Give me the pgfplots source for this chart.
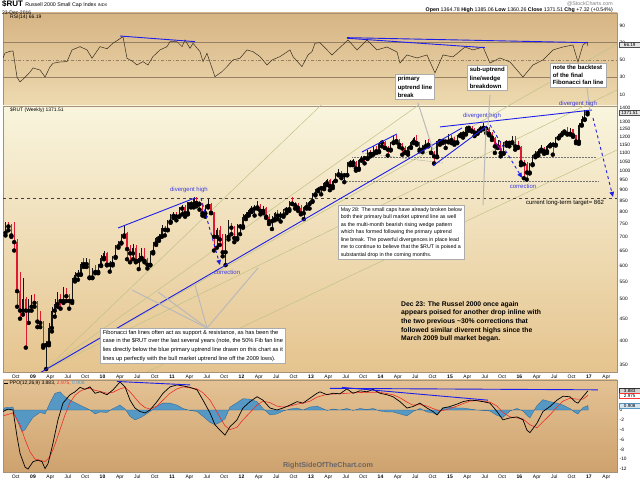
\documentclass[border=0pt]{standalone}
\usepackage{fontspec}
\setmainfont{Liberation Sans}
\usepackage{pgfplots}
\usepackage{pgfplotstable}
\pgfplotsset{compat=1.18}
\usetikzlibrary{arrows.meta}

\definecolor{frame}{RGB}{165,145,120}
\definecolor{rsitop}{RGB}{214,180,132}
\definecolor{rsibot}{RGB}{238,218,176}
\definecolor{pricetop}{RGB}{249,245,222}
\definecolor{pricebot}{RGB}{229,196,142}
\definecolor{ppotop}{RGB}{228,194,148}
\definecolor{ppobot}{RGB}{206,162,110}
\definecolor{upc}{RGB}{20,20,20}
\definecolor{dnc}{RGB}{222,25,50}
\definecolor{trend}{RGB}{30,30,235}
\definecolor{labblue}{RGB}{60,60,225}
\definecolor{fan}{RGB}{192,194,135}
\definecolor{histfill}{RGB}{85,152,196}
\definecolor{histedge}{RGB}{40,100,150}
\definecolor{sigred}{RGB}{238,45,40}
\definecolor{rsiline}{RGB}{55,45,30}
\definecolor{guide}{RGB}{150,128,100}

\newcommand\fs[2]{\fontsize{#1}{#2}\selectfont}

% semi-monthly candles: time, open, high, low, close
\pgfplotstableread{
t o h l c
2008.604 715 760 705 750
2008.646 750 760 725 740
2008.688 740 750 700 705
2008.729 705 760 650 680
2008.771 680 690 480 522
2008.813 522 580 450 470
2008.854 470 560 460 500
2008.896 500 505 385 470
2008.938 470 500 440 480
2008.979 480 510 470 499
2009.021 499 515 480 490
2009.063 490 495 430 443
2009.104 443 470 430 440
2009.146 440 445 385 390
2009.188 390 400 343 395
2009.229 395 440 390 428
2009.271 428 480 420 470
2009.313 470 500 455 487
2009.354 487 520 480 505
2009.396 505 515 475 495
2009.438 495 535 490 525
2009.479 525 530 495 508
2009.521 508 515 475 495
2009.563 495 560 490 557
2009.604 557 580 550 570
2009.646 570 585 555 572
2009.688 572 610 570 605
2009.729 605 625 595 604
2009.771 604 625 595 610
2009.813 610 620 560 562
2009.854 562 590 560 585
2009.896 585 600 575 579
2009.938 579 605 575 600
2009.979 600 635 598 625
2010.021 625 650 620 640
2010.063 640 645 600 602
2010.104 602 615 580 605
2010.146 605 630 600 628
2010.188 628 670 625 665
2010.229 665 685 660 678
2010.271 678 710 675 705
2010.313 705 742 700 716
2010.354 716 720 620 655
2010.396 655 670 610 640
2010.438 640 675 620 660
2010.479 660 670 610 615
2010.521 615 640 588 625
2010.563 625 660 620 650
2010.604 650 660 610 615
2010.646 615 625 590 602
2010.688 602 650 600 645
2010.729 645 680 640 676
2010.771 676 700 670 695
2010.813 695 710 685 703
2010.854 703 745 700 735
2010.896 735 740 705 727
2010.938 727 765 725 760
2010.979 760 790 755 784
2011.021 784 800 775 795
2011.063 795 800 765 781
2011.104 781 820 780 815
2011.146 815 830 790 823
2011.188 823 830 780 795
2011.229 795 845 790 843
2011.271 843 850 820 835
2011.313 835 866 820 865
2011.354 865 868 825 840
2011.396 840 850 810 835
2011.438 835 840 785 795
2011.479 795 830 780 827
2011.521 827 858 820 835
2011.563 835 840 795 797
2011.604 797 800 650 700
2011.646 700 735 660 726
2011.688 726 740 670 690
2011.729 690 710 630 644
2011.771 644 710 601 700
2011.813 700 765 690 741
2011.854 741 755 710 735
2011.896 735 740 680 695
2011.938 695 750 690 740
2011.979 740 750 710 741
2012.021 741 790 735 780
2012.063 780 800 770 792
2012.104 792 815 785 810
2012.146 810 825 800 815
2012.188 815 830 785 820
2012.229 820 847 815 830
2012.271 830 835 790 805
2012.313 805 825 795 816
2012.354 816 820 775 780
2012.396 780 790 750 761
2012.438 761 785 730 770
2012.479 770 800 765 798
2012.521 798 810 770 785
2012.563 785 800 760 786
2012.604 786 815 780 810
2012.646 810 820 795 812
2012.688 812 850 805 840
2012.729 840 868 835 837
2012.771 837 845 815 830
2012.813 830 840 805 818
2012.854 818 830 790 795
2012.896 795 825 770 822
2012.938 822 845 815 835
2012.979 835 850 815 849
2013.021 849 885 845 880
2013.063 880 905 875 902
2013.104 902 915 895 910
2013.146 910 920 880 911
2013.188 911 940 905 935
2013.229 935 955 925 951
2013.271 951 955 900 920
2013.313 920 950 910 947
2013.354 947 985 945 980
2013.396 980 1010 975 984
2013.438 984 1000 960 975
2013.479 975 985 940 977
2013.521 977 1045 975 1040
2013.563 1040 1060 1030 1045
2013.604 1045 1065 1030 1050
2013.646 1050 1055 1000 1011
2013.688 1011 1065 1005 1060
2013.729 1060 1085 1055 1073
2013.771 1073 1080 1040 1070
2013.813 1070 1120 1065 1110
2013.854 1110 1120 1080 1095
2013.896 1095 1145 1090 1143
2013.938 1143 1145 1100 1110
2013.979 1110 1165 1105 1163
2014.021 1163 1180 1140 1165
2014.063 1165 1175 1130 1131
2014.104 1131 1140 1085 1120
2014.146 1120 1170 1115 1165
2014.188 1165 1212 1160 1200
2014.229 1200 1210 1165 1173
2014.271 1173 1185 1135 1150
2014.313 1150 1160 1090 1127
2014.354 1127 1145 1100 1105
2014.396 1105 1140 1090 1135
2014.438 1135 1175 1130 1170
2014.479 1170 1200 1160 1193
2014.521 1193 1213 1150 1160
2014.563 1160 1170 1110 1120
2014.604 1120 1150 1105 1140
2014.646 1140 1180 1135 1174
2014.688 1174 1185 1140 1150
2014.729 1150 1155 1100 1101
2014.771 1101 1110 1040 1080
2014.813 1080 1175 1075 1173
2014.854 1173 1180 1150 1175
2014.896 1175 1185 1160 1173
2014.938 1173 1180 1130 1170
2014.979 1170 1220 1165 1205
2015.021 1205 1215 1160 1180
2015.063 1180 1200 1150 1165
2015.104 1165 1215 1160 1210
2015.146 1210 1235 1205 1233
2015.188 1233 1240 1195 1220
2015.229 1220 1270 1215 1265
2015.271 1265 1275 1240 1260
2015.313 1260 1275 1235 1240
2015.354 1240 1260 1205 1228
2015.396 1228 1255 1220 1250
2015.438 1250 1270 1240 1260
2015.479 1260 1296 1250 1270
2015.521 1270 1275 1225 1255
2015.563 1255 1265 1210 1220
2015.604 1220 1230 1180 1195
2015.646 1195 1200 1100 1140
2015.688 1140 1180 1130 1155
2015.729 1155 1175 1080 1100
2015.771 1100 1170 1095 1165
2015.813 1165 1180 1145 1162
2015.854 1162 1175 1140 1165
2015.896 1165 1205 1160 1198
2015.938 1198 1205 1120 1140
2015.979 1140 1175 1130 1136
2016.021 1136 1140 1030 1046
2016.063 1046 1060 960 1035
2016.104 1035 1045 953 990
2016.146 990 1040 985 1035
2016.188 1035 1090 1030 1085
2016.229 1085 1110 1075 1100
2016.271 1100 1125 1085 1120
2016.313 1120 1150 1110 1130
2016.354 1130 1135 1095 1110
2016.396 1110 1150 1100 1145
2016.438 1145 1165 1140 1160
2016.479 1160 1170 1090 1150
2016.521 1150 1200 1145 1195
2016.563 1195 1220 1190 1215
2016.604 1215 1240 1210 1235
2016.646 1235 1245 1225 1240
2016.688 1240 1265 1215 1220
2016.729 1220 1260 1215 1252
2016.771 1252 1255 1200 1210
2016.813 1210 1215 1160 1170
2016.854 1170 1290 1156 1280
2016.896 1280 1340 1275 1320
2016.938 1320 1388 1315 1380
2016.979 1380 1385 1355 1371
}\rut

\pgfplotstableread{
t v
2008.568 52.3
2008.597 58.0
2008.669 60.0
2008.712 60.4
2008.770 30.0
2008.813 24.6
2008.885 30.0
2008.957 36.0
2009.000 40.8
2009.072 39.0
2009.101 38.4
2009.173 30.3
2009.244 42.0
2009.288 46.2
2009.388 47.7
2009.489 48.1
2009.561 61.6
2009.676 65.4
2009.777 61.6
2009.849 52.0
2009.964 65.4
2010.064 63.0
2010.151 69.3
2010.295 77.0
2010.352 52.0
2010.438 48.1
2010.496 44.2
2010.582 48.1
2010.654 44.2
2010.726 53.9
2010.827 61.6
2010.928 65.4
2010.971 71.2
2011.072 71.2
2011.144 65.4
2011.187 73.1
2011.259 63.5
2011.302 69.3
2011.403 59.6
2011.446 48.1
2011.503 57.7
2011.618 30.7
2011.719 36.5
2011.791 42.3
2011.877 50.0
2011.978 52.0
2012.079 61.6
2012.165 59.6
2012.266 53.9
2012.367 44.2
2012.438 50.0
2012.554 53.9
2012.698 61.6
2012.741 53.9
2012.870 42.3
2012.957 55.8
2013.014 59.6
2013.057 69.3
2013.129 70.0
2013.302 55.8
2013.532 73.1
2013.662 61.6
2013.805 73.1
2013.949 61.6
2014.093 65.0
2014.237 59.2
2014.280 46.5
2014.381 55.8
2014.525 52.3
2014.669 55.8
2014.784 35.0
2014.899 55.8
2015.043 53.5
2015.216 65.0
2015.331 61.6
2015.475 65.0
2015.575 46.5
2015.719 52.3
2015.863 47.7
2016.050 30.3
2016.194 44.2
2016.338 50.0
2016.482 61.6
2016.625 65.0
2016.769 67.3
2016.841 47.7
2016.913 67.3
2016.971 70.8
2016.985 66.2
}\rsi

\pgfplotstableread{
t v
2008.568 -0.3
2008.640 0.2
2008.712 0.0
2008.770 -5.4
2008.813 -8.8
2008.885 -11.6
2008.928 -12.0
2009.000 -10.5
2009.072 -10.2
2009.129 -10.5
2009.173 -11.9
2009.216 -10.9
2009.288 -6.7
2009.359 -2.0
2009.431 1.4
2009.532 3.1
2009.604 3.7
2009.676 4.6
2009.748 4.2
2009.820 4.7
2009.892 3.4
2009.964 3.7
2010.064 3.1
2010.151 4.1
2010.252 5.7
2010.324 4.7
2010.396 2.0
2010.467 0.4
2010.539 -0.3
2010.611 -0.6
2010.683 0.0
2010.784 1.7
2010.870 3.4
2010.971 4.7
2011.072 5.1
2011.158 4.9
2011.259 4.6
2011.360 4.1
2011.446 2.0
2011.547 -0.6
2011.618 -3.0
2011.690 -4.1
2011.762 -5.1
2011.834 -3.4
2011.935 -2.0
2012.021 0.4
2012.122 1.7
2012.223 2.7
2012.309 2.0
2012.410 0.4
2012.510 0.0
2012.597 0.4
2012.698 1.0
2012.799 1.7
2012.885 1.4
2012.985 2.4
2013.086 3.4
2013.129 3.7
2013.230 3.1
2013.316 3.4
2013.417 3.3
2013.518 4.3
2013.604 3.4
2013.705 3.9
2013.805 3.7
2013.892 4.2
2013.993 3.4
2014.093 3.1
2014.180 2.7
2014.280 1.7
2014.381 0.4
2014.467 0.7
2014.568 1.4
2014.669 0.4
2014.755 -0.3
2014.813 -1.0
2014.899 0.4
2014.999 0.7
2015.101 1.2
2015.187 1.7
2015.288 2.0
2015.388 1.9
2015.475 1.7
2015.575 1.4
2015.676 -0.3
2015.762 -2.0
2015.863 -1.6
2015.964 -1.4
2016.050 -2.0
2016.107 -4.1
2016.150 -4.6
2016.251 -2.7
2016.338 -0.3
2016.438 0.7
2016.539 2.0
2016.625 2.8
2016.726 2.7
2016.798 1.7
2016.841 1.4
2016.913 2.7
2016.985 3.9
}\ppo

\pgfplotstableread{
t v
2008.568 -1.2
2008.712 -0.6
2008.813 -3.0
2008.885 -6.0
2008.957 -8.5
2009.029 -10.0
2009.101 -10.2
2009.173 -10.5
2009.244 -9.5
2009.316 -7.0
2009.388 -4.0
2009.460 -1.0
2009.532 1.5
2009.604 3.0
2009.676 3.8
2009.748 4.3
2009.820 4.4
2009.892 4.0
2009.964 3.8
2010.064 3.4
2010.151 3.6
2010.252 4.3
2010.324 4.6
2010.396 3.7
2010.467 2.5
2010.539 1.3
2010.611 0.5
2010.683 0.2
2010.784 0.8
2010.870 2.0
2010.971 3.4
2011.072 4.3
2011.158 4.7
2011.259 4.5
2011.360 4.3
2011.446 3.5
2011.547 2.0
2011.618 0.3
2011.690 -1.5
2011.762 -3.2
2011.834 -4.0
2011.935 -3.5
2012.021 -2.0
2012.122 -0.5
2012.223 1.0
2012.309 1.8
2012.410 1.5
2012.510 0.8
2012.597 0.6
2012.698 0.8
2012.799 1.2
2012.885 1.4
2012.985 1.8
2013.086 2.6
2013.230 3.2
2013.417 3.3
2013.604 3.5
2013.805 3.6
2013.993 3.6
2014.180 3.1
2014.280 2.5
2014.381 1.6
2014.467 1.0
2014.568 1.1
2014.669 0.8
2014.755 0.3
2014.856 -0.2
2014.957 0.1
2015.101 0.8
2015.187 1.3
2015.288 1.8
2015.388 1.9
2015.475 1.8
2015.575 1.6
2015.676 0.8
2015.762 -0.5
2015.863 -1.4
2015.964 -1.6
2016.050 -1.8
2016.150 -3.0
2016.251 -3.6
2016.338 -2.4
2016.438 -1.0
2016.539 0.6
2016.625 1.8
2016.726 2.4
2016.827 2.2
2016.913 2.2
2016.985 3.0
}\sig

\pgfplotstableread{
t v
2008.568 0
2008.597 0.5
2008.712 0.6
2008.741 -1.0
2008.813 -3.5
2008.842 -4.4
2008.885 -4.0
2008.928 -3.0
2009.000 -1.5
2009.101 -0.5
2009.173 -0.8
2009.244 1.5
2009.316 3.4
2009.388 3.7
2009.460 2.7
2009.532 2.0
2009.604 1.5
2009.676 1.0
2009.748 0.5
2009.820 0.0
2009.892 -0.8
2009.964 -0.4
2010.064 -0.5
2010.151 0.3
2010.252 1.0
2010.324 0.2
2010.396 -1.3
2010.467 -2.0
2010.539 -1.6
2010.611 -1.0
2010.683 -0.3
2010.784 0.8
2010.870 1.4
2010.971 1.4
2011.072 1.0
2011.158 0.3
2011.259 -0.1
2011.360 -0.3
2011.446 -1.3
2011.547 -2.5
2011.618 -3.0
2011.690 -2.5
2011.762 -1.8
2011.834 0.6
2011.935 1.5
2012.021 2.3
2012.122 2.2
2012.223 1.7
2012.309 0.3
2012.410 -1.0
2012.510 -0.8
2012.597 -0.2
2012.698 0.2
2012.799 0.4
2012.885 0.0
2012.985 0.6
2013.086 0.8
2013.230 -0.1
2013.316 0.2
2013.417 0.0
2013.518 0.3
2013.604 -0.1
2013.705 0.3
2013.805 0.1
2013.892 0.3
2013.993 -0.2
2014.093 -0.4
2014.180 -0.4
2014.280 -0.8
2014.381 -1.2
2014.467 -0.3
2014.568 0.3
2014.669 -0.4
2014.755 -0.6
2014.813 -0.9
2014.899 0.5
2014.999 0.6
2015.101 0.4
2015.187 0.4
2015.288 0.2
2015.388 0.0
2015.475 -0.1
2015.575 -0.2
2015.676 -1.1
2015.762 -1.5
2015.863 -0.2
2015.964 0.3
2016.050 -0.2
2016.107 -1.1
2016.150 -1.6
2016.251 0.9
2016.338 2.1
2016.438 1.7
2016.539 1.4
2016.625 1.0
2016.726 0.3
2016.798 -0.5
2016.841 -0.8
2016.913 0.5
2016.985 0.9
2016.990 0
}\hist

\pgfplotsset{
  panel/.style={scale only axis, width=614pt, anchor=south west,
    xmin=2008.568, xmax=2017.403, clip mode=individual,
    axis line style={draw=frame, line width=0.6pt},
    yticklabel pos=right, ytick pos=right, xtick pos=lower,
    tick align=outside, major tick length=1.5pt,
    tick style={draw=frame!70!black, line width=0.3pt},
    yticklabel style={font=\fs{4.8}{5}, inner sep=1pt},
    xticklabel style={font=\fs{5}{5}, inner sep=1.2pt}},
  months/.style={xtick={2008.75,2009,...,2017.25},
    xticklabels={Oct,\textbf{09},Apr,Jul,Oct,\textbf{10},Apr,Jul,Oct,\textbf{11},Apr,Jul,Oct,\textbf{12},Apr,Jul,Oct,\textbf{13},Apr,Jul,Oct,\textbf{14},Apr,Jul,Oct,\textbf{15},Apr,Jul,Oct,\textbf{16},Apr,Jul,Oct,\textbf{17},Apr}},
  trendline/.style={trend, line width=0.9pt},
  trendarrow/.style={trend, line width=0.9pt, dashed, -{Triangle[length=5pt,width=4.5pt]}},
  fanline/.style={fan, line width=0.5pt},
}
\tikzset{
  box/.style={draw=gray!65, fill=white, line width=0.5pt, inner xsep=2.5pt, inner ysep=2pt, anchor=north west, align=left},
  pointer/.style={draw=gray!55, line width=1pt},
  valbox/.style={line width=0.4pt, inner sep=0.7pt, font=\fs{4.6}{5}, minimum width=21pt, anchor=west},
}

\begin{document}
\begin{tikzpicture}[x=1pt,y=1pt]
\path[use as bounding box] (0,0) rectangle (640,481);
\fill[white] (0,0) rectangle (640,481);

% RSI panel
\begin{axis}[panel, at={(3pt,375pt)}, height=93pt, ymin=-3.2, ymax=104.3,
  ytick={10,30,50,70,90}, yticklabels={10,30,50,70,90}, xtick=\empty,
  axis background/.style={top color=rsitop, bottom color=rsibot}]
\addplot[guide, line width=0.5pt] coordinates {(2008.568,70) (2017.403,70)};
\addplot[guide, line width=0.5pt] coordinates {(2008.568,30) (2017.403,30)};
\addplot[guide, line width=0.5pt, dash dot] coordinates {(2008.568,50) (2017.403,50)};
\addplot[fanline] coordinates {(2015.834,-3.2) (2017.403,68.5)};
\addplot[fanline] coordinates {(2016.928,-3.2) (2017.403,15.3)};
\addplot[rsiline, line width=0.5pt] table {\rsi};
\addplot[trendline] coordinates {(2010.252,77.7) (2011.331,71.2)};
\addplot[trendline] coordinates {(2013.518,75.8) (2016.985,70.0)};
\addplot[trendline] coordinates {(2013.518,75.1) (2015.503,64.2)};
\end{axis}

% price panel
\begin{axis}[panel, months, at={(3pt,109pt)}, height=266pt, ymode=log,
  ymin=337.6, ymax=1417.4, yminorticks=false,
  ytick={350,400,450,500,550,600,650,700,750,800,850,900,950,1000,1050,1100,1150,1200,1250,1300,1400},
  yticklabels={350,400,450,500,550,600,650,700,750,800,850,900,950,1000,1050,1100,1150,1200,1250,1300,1400},
  axis background/.style={top color=pricetop, bottom color=pricebot}]
% Fibonacci fan lines
\addplot[fanline] coordinates {(2009.173,341) (2013.82,1816)};
\addplot[fanline] coordinates {(2009.173,341) (2015.46,1816)};
\addplot[fanline] coordinates {(2009.173,341) (2017.403,1980)};
\addplot[fanline] coordinates {(2009.173,341) (2017.403,1546)};
\addplot[fanline] coordinates {(2010.640,337.6) (2017.403,1118)};
% support levels
\addplot[black!75, line width=0.6pt, dashed] coordinates {(2008.568,862) (2017.403,862)};
\addplot[black!55, line width=0.5pt, densely dotted] coordinates {(2013.59,1076) (2017.09,1076)};
\addplot[black!55, line width=0.5pt, densely dotted] coordinates {(2013.46,946) (2017.13,946)};
\addplot[black!55, line width=0.5pt, densely dotted] coordinates {(2013.733,1100) (2014.899,1042)};
% candles: wicks then bodies
\addplot[only marks, mark=none, restrict expr to domain={\thisrow{c}-\thisrow{o}}{0:100000},
  error bars/.cd, y dir=plus, y explicit, error mark=none,
  error bar style={draw=upc, line width=0.45pt}]
  table[x=t, y=l, y error plus expr=\thisrow{h}-\thisrow{l}] {\rut};
\addplot[only marks, mark=none, restrict expr to domain={\thisrow{c}-\thisrow{o}}{-100000:-0.01},
  error bars/.cd, y dir=plus, y explicit, error mark=none,
  error bar style={draw=dnc, line width=0.45pt}]
  table[x=t, y=l, y error plus expr=\thisrow{h}-\thisrow{l}] {\rut};
\addplot[only marks, mark=none, restrict expr to domain={\thisrow{c}-\thisrow{o}}{0:100000},
  error bars/.cd, y dir=plus, y explicit, error mark=none,
  error bar style={draw=upc, line width=1.3pt}]
  table[x=t, y=o, y error plus expr=\thisrow{c}-\thisrow{o}] {\rut};
\addplot[only marks, mark=none, restrict expr to domain={\thisrow{c}-\thisrow{o}}{-100000:-0.01},
  error bars/.cd, y dir=plus, y explicit, error mark=none,
  error bar style={draw=dnc, line width=1.3pt}]
  table[x=t, y=c, y error plus expr=\thisrow{o}-\thisrow{c}] {\rut};
% trend lines
\addplot[trendline] coordinates {(2009.101,336) (2015.172,1259)};
\addplot[trendline] coordinates {(2013.733,1106) (2014.237,1219)};
\addplot[trendline] coordinates {(2014.755,1026) (2015.532,1273)};
\addplot[trendline] coordinates {(2014.856,1266) (2017.043,1387)};
\addplot[trendline] coordinates {(2010.223,734) (2011.331,863)};
\addplot[trendarrow] coordinates {(2011.417,863) (2011.690,601)};
\addplot[trendarrow] coordinates {(2015.575,1280) (2016.036,962)};
\addplot[trendarrow] coordinates {(2017.057,1329) (2017.345,868)};
\end{axis}

% PPO panel
\begin{axis}[panel, months, at={(3pt,9pt)}, height=92pt, ymin=-12.6, ymax=6.1,
  ytick={0,-2,-4,-6,-8,-10,-12}, yticklabels={0,-2,-4,-6,-8,-10,-12},
  axis background/.style={top color=ppotop, bottom color=ppobot}]
\addplot[fill=histfill, draw=histedge, line width=0.3pt] table {\hist} \closedcycle;
\addplot[sigred, line width=0.6pt] table {\sig};
\addplot[black, line width=0.7pt] table {\ppo};
\addplot[trendline] coordinates {(2010.208,5.8) (2011.259,5.1)};
\addplot[trendline] coordinates {(2013.273,4.4) (2017.129,4.1)};
\addplot[trendline] coordinates {(2013.446,4.6) (2015.546,2.0)};
\end{axis}

% annotations, in picture pixels
\begin{axis}[at={(0pt,0pt)}, anchor=south west, scale only axis, width=640pt, height=481pt,
  xmin=0, xmax=640, ymin=0, ymax=481, y dir=reverse, hide axis, clip=false]
\node[anchor=base west, inner sep=0] at (2,7) {\fs{8}{8}\bfseries \$RUT\ \mdseries\fs{5.3}{6}Russell 2000 Small Cap Index \fs{4}{5}INDX};
\node[anchor=west, inner sep=0] at (2,12.5) {\fs{5}{6}23-Dec-2016};
\node[anchor=east, inner sep=0, text=gray] at (613,3.5) {\fs{5.3}{6}@StockCharts.com};
\node[anchor=east, inner sep=0] at (613,10.5) {\fs{5.3}{6}\textbf{Open} 1364.78 \textbf{High} 1385.06 \textbf{Low} 1360.26 \textbf{Close} 1371.51 \textbf{Chg} +7.32 (+0.54\%)};
\node[anchor=west, inner sep=0] at (10,17) {\fs{5}{6}RSI(14) 66.19};
\node[anchor=west, inner sep=0] at (10,110.5) {\fs{5}{6}\$RUT (Weekly) 1371.51};
\node[anchor=west, inner sep=0] at (4,383.5) {\fs{5}{6}\rule[1.6pt]{4pt}{0.6pt} PPO(12,26,9) 3.883, \textcolor{sigred}{2.975,} \textcolor{histfill}{0.908}};
% value flags on the right
\node[valbox, draw=black!70, fill=gray!20] at (619,45) {66.19};
\node[valbox, draw=black!70, fill=gray!20] at (619,113) {1371.51};
\node[valbox, draw=black!80, fill=gray!35] at (619,390.5) {3.883};
\node[valbox, draw=red!80, fill=white] at (619,395.8) {2.975};
\node[valbox, draw=histfill, fill=histfill!25] at (619,405.5) {0.908};
% pointers
\draw[pointer] (207,328) -- (132,290);
\draw[pointer] (207,328) -- (158,292);
\draw[pointer] (207,328) -- (195,285);
\draw[pointer] (207,328) -- (258,268);
\draw[pointer] (418,103) -- (433,150);
\draw[pointer] (490,95) -- (488,125);
\draw[pointer] (483,205) -- (486,128);
\draw[pointer] (587,88) -- (590,112);
\draw[violet!75!magenta, line width=1.2pt, -{Triangle[length=3pt,width=3pt]}] (495,142) -- (502,151);
% text boxes
\node[box, font=\bfseries\fs{6}{8.5}] at (395,74) {primary\\uptrend line\\break};
\node[box, font=\bfseries\fs{6}{8.5}] at (467,65) {sub-uptrend\\line/wedge\\breakdown};
\node[box, font=\bfseries\fs{6}{7.6}] at (550,63) {note the backtest\\of the final\\Fibonacci fan line};
\node[box, font=\fs{5.3}{7.5}] at (338,205) {May 28: The small caps have already broken below\\both their primary bull market uptrend line as well\\as the multi-month bearish rising wedge pattern\\which has formed following the primary uptrend\\line break. The powerful divergences in place lead\\me to continue to believe that the \$RUT is poised a\\substantial drop in the coming months.};
\node[box, font=\fs{5.7}{8.6}] at (100,328) {Fibonacci fan lines often act as support \& resistance, as has been the\\case in the \$RUT over the last several years (note, the 50\% Fib fan line\\lies directly below the blue primary uptrend line drawn on this chart as it\\lines up perfectly with the bull market uptrend line off the 2009 lows).};
\node[anchor=north west, align=left, inner sep=0, font=\bfseries\fs{6.8}{8.7}] at (401,301) {Dec 23: The Russel 2000 once again\\appears poised for another drop inline with\\the two previous \textasciitilde30\% corrections that\\followed similar diverent highs since the\\March 2009 bull market began.};
% labels
\node[text=labblue, font=\fs{6}{6}] at (189,190) {divergent high};
\node[text=labblue, font=\fs{6}{6}] at (227,272) {correction};
\node[text=labblue, font=\fs{6}{6}] at (482,116) {divergent high};
\node[text=labblue, font=\fs{6}{6}] at (523,186) {correction};
\node[text=labblue, font=\fs{6}{6}] at (578,104) {divergent high};
\node[font=\fs{6}{6}] at (565,203) {current long-term target= 862};
\node[text=black!60, font=\bfseries\fs{7.2}{8}] at (328,466) {RightSideOfTheChart.com};
\end{axis}
\end{tikzpicture}
\end{document}
